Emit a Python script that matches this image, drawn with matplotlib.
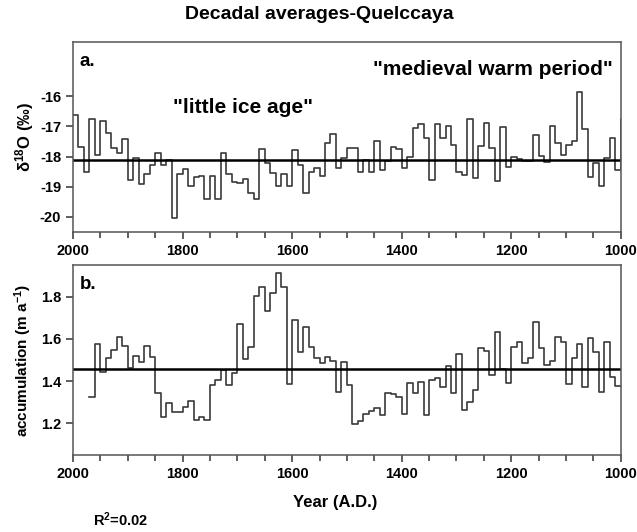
import numpy as np
import matplotlib
matplotlib.use("Agg")
import matplotlib.pyplot as plt
from matplotlib.ticker import MultipleLocator

plt.rcParams['font.family'] = ['Liberation Sans', 'DejaVu Sans']
plt.rcParams['font.weight'] = 'bold'
plt.rcParams['axes.unicode_minus'] = False
plt.rcParams['mathtext.fontset'] = 'custom'
plt.rcParams['mathtext.rm'] = 'Liberation Sans:bold'
plt.rcParams['mathtext.it'] = 'Liberation Sans:bold'
plt.rcParams['mathtext.bf'] = 'Liberation Sans:bold'

# decadal d18O, 2000 -> 990 (one value per decade, newest first)
d18o_start = 2000
d18o = [
    -16.61, -17.67, -18.50, -16.76, -17.94, -16.83, -17.22, -17.72, -17.89, -17.42,
    -18.76, -18.06, -18.91, -18.56, -18.28, -17.89, -18.28, -18.11,
    -20.02, -18.58, -18.41, -18.97, -18.67, -18.63, -19.39, -18.63, -19.39, -17.89,
    -18.56, -18.83, -18.89, -18.74, -19.22, -19.39,
    -17.76, -18.22, -18.53, -18.98, -18.56, -18.98, -17.78, -18.28, -19.20, -18.52,
    -18.37, -18.63, -17.56, -17.24, -18.37, -18.06, -17.72, -17.72, -18.50, -18.11,
    -18.50, -17.48, -18.44, -18.13, -17.67, -17.76, -18.39, -18.00, -17.06, -16.91,
    -17.39, -18.78, -16.91,
    -17.39, -16.97, -17.61, -18.50, -18.61, -16.76, -18.72, -17.64, -16.87, -17.72,
    -18.80, -17.03, -18.36, -18.00, -18.09, -18.13, -18.13, -17.28, -17.98, -18.17,
    -16.98, -17.56, -17.94, -17.61, -17.47, -15.86, -17.08, -18.67, -18.22, -18.98,
    -18.06, -17.39, -18.44, -16.75,
]
d18o_mean = -18.1

# decadal accumulation (m a-1), 1970 -> 1000
acc_start = 1970
accum = [
    1.326, 1.574, 1.442, 1.508, 1.548, 1.611, 1.567, 1.461, 1.519, 1.492,
    1.567, 1.513, 1.342, 1.228, 1.295, 1.255, 1.255, 1.279, 1.307, 1.216,
    1.232, 1.216, 1.382, 1.405, 1.453, 1.382, 1.437, 1.671, 1.503, 1.560,
    1.803,
    1.848, 1.734, 1.819, 1.914, 1.848, 1.387, 1.690, 1.540, 1.655, 1.560,
    1.508, 1.484, 1.513, 1.497, 1.350, 1.492, 1.382, 1.197, 1.213, 1.244,
    1.260, 1.271, 1.240, 1.345, 1.339, 1.326, 1.244, 1.390, 1.342, 1.398,
    1.240, 1.405, 1.416,
    1.371, 1.472, 1.345, 1.529, 1.263, 1.303, 1.358, 1.555, 1.544, 1.428,
    1.634, 1.456, 1.393, 1.563, 1.587, 1.484, 1.508, 1.679, 1.555, 1.476,
    1.495, 1.611, 1.587, 1.386, 1.508, 1.574, 1.374, 1.603, 1.540, 1.350,
    1.584, 1.420, 1.377,
]
acc_mean = 1.456


def decade_steps(start, values):
    edges = start - 10 * np.arange(len(values) + 1)
    return edges, np.append(values, values[-1])


fig = plt.figure(figsize=(6.37, 5.32), dpi=100)
ax_a = fig.add_axes([0.1146, 0.5639, 0.860, 0.357])
ax_b = fig.add_axes([0.1146, 0.1447, 0.860, 0.357])

line_col = '#3a3a3a'
for ax in (ax_a, ax_b):
    ax.set_xlim(2000, 1000)
    ax.xaxis.set_major_locator(MultipleLocator(200))
    ax.xaxis.set_minor_locator(MultipleLocator(50))
    ax.tick_params(which='both', direction='out', colors='#333333', labelcolor='black',
                   labelsize=10.5, width=1.1, top=False, right=False)
    ax.tick_params(which='major', length=5)
    ax.tick_params(which='minor', length=4)
    for s in ax.spines.values():
        s.set_color('#555555')
        s.set_linewidth(1.1)

x, y = decade_steps(d18o_start, d18o)
ax_a.step(x, y, where='post', color=line_col, lw=1.2)
ax_a.axhline(d18o_mean, color='black', lw=1.8)
ax_a.set_ylim(-20.5, -14.2)
ax_a.set_yticks([-20, -19, -18, -17, -16])
ax_a.set_ylabel('δ$^{18}$O (‰)', fontsize=12, fontweight='bold', labelpad=3)
ax_a.text(0.012, 0.94, 'a.', transform=ax_a.transAxes, fontsize=13.5,
          fontweight='bold', va='top')
ax_a.text(1817, -16.37, '"little ice age"', fontsize=15, fontweight='bold',
          ha='left', va='center')
ax_a.text(1453, -15.12, '"medieval warm period"', fontsize=15, fontweight='bold',
          ha='left', va='center')
fig.text(0.502, 0.972, 'Decadal averages-Quelccaya', fontsize=14, fontweight='bold',
         ha='center', va='center')

x, y = decade_steps(acc_start, accum)
ax_b.step(x, y, where='post', color=line_col, lw=1.2)
ax_b.axhline(acc_mean, color='black', lw=1.8)
ax_b.set_ylim(1.05, 1.95)
ax_b.set_yticks([1.2, 1.4, 1.6, 1.8])
ax_b.set_ylabel('accumulation (m a$^{-1}$)', fontsize=11, fontweight='bold', labelpad=5)
ax_b.set_xlabel('Year (A.D.)', fontsize=12, fontweight='bold', labelpad=10, x=0.478)
ax_b.text(0.012, 0.94, 'b.', transform=ax_b.transAxes, fontsize=13.5,
          fontweight='bold', va='top')

for ax in (ax_a, ax_b):
    for lab in ax.get_xticklabels() + ax.get_yticklabels():
        lab.set_fontweight('bold')

fig.text(0.146, 0.012, 'R$^2$=0.02', fontsize=10.5, fontweight='bold', va='baseline')

fig.savefig('out.png', dpi=100)
